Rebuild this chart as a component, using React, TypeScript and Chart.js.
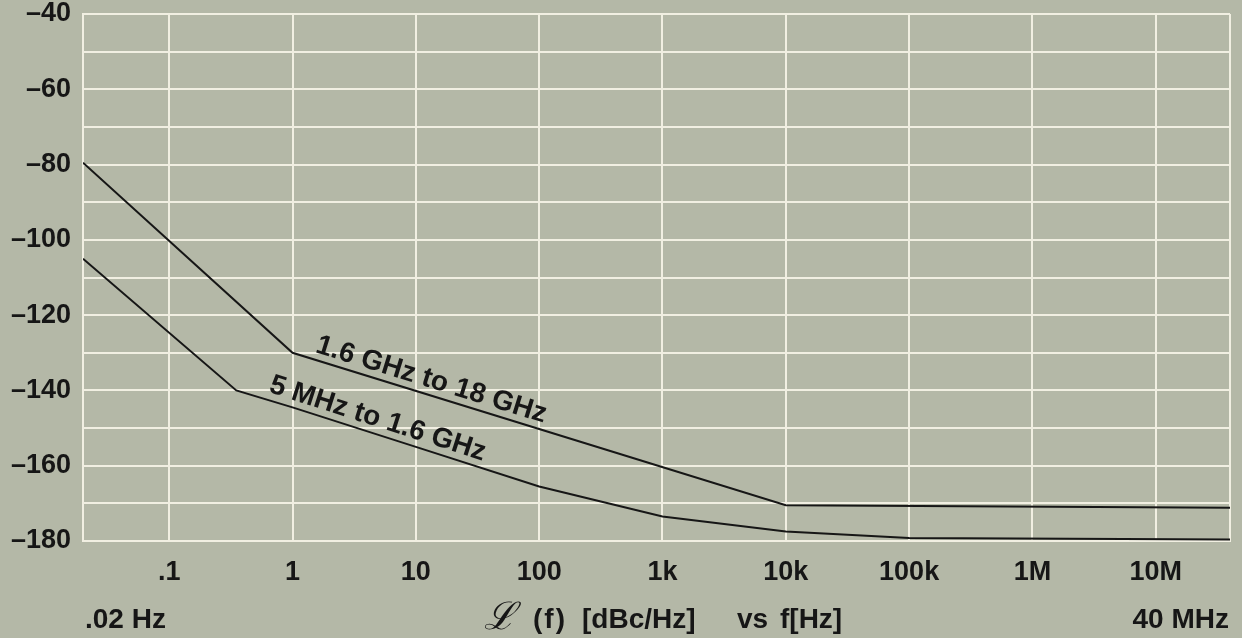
import React, { useEffect, useRef } from 'react';
import { Chart, registerables } from 'chart.js';

Chart.register(...registerables);

// Offset frequency axis (Hz), logarithmic
const FREQ_MIN = 0.02;
const FREQ_MAX = 4e7;
const freqGrid = [0.02, 0.1, 1, 10, 100, 1e3, 1e4, 1e5, 1e6, 1e7, 4e7];
const freqLabels = ['', '.1', '1', '10', '100', '1k', '10k', '100k', '1M', '10M', ''];
const axisEndLabels = ['.02 Hz', '40 MHz'];

// SSB phase noise level, dBc/Hz
const LEVEL_MIN = -180;
const LEVEL_MAX = -40;
const LEVEL_GRID_STEP = 10;
const LEVEL_LABEL_STEP = 20;

// Phase-noise curves per carrier band
const highBandName = '1.6 GHz to 18 GHz';
const highBandFreq = [0.02, 1, 1e4, 4e7];
const highBandLevel = [-79.5, -130, -170.5, -171.2];

const lowBandName = '5 MHz to 1.6 GHz';
const lowBandFreq = [0.02, 0.35, 1, 10, 100, 1e3, 1e4, 1e5, 4e7];
const lowBandLevel = [-105, -140, -144.5, -155, -165.5, -173.5, -177.5, -179.2, -179.6];

const titleSymbol = '\u2112';
const titleParts = ['(f)', '[dBc/Hz]', 'vs', 'f[Hz]'];

const INK = '#161616';
const GRID = '#f1efe2';
const PAPER = '#b4b8a7';
const FONT = '"Liberation Sans", Arial, sans-serif';

// Where along each curve its name is written (Hz)
const curveLabelAt = [12.3, 4.5];

const annotate = {
  id: 'annotate',
  afterDatasetsDraw(chart: any) {
    const ctx: any = chart.ctx;
    const xs = chart.scales.x;
    const area = chart.chartArea;
    ctx.save();
    ctx.fillStyle = INK;

    // curve names, written along each line
    chart.data.datasets.forEach((ds: any, i: number) => {
      const pts = chart.getDatasetMeta(i).data;
      const px = xs.getPixelForValue(curveLabelAt[i]);
      let k = 0;
      while (k < pts.length - 2 && pts[k + 1].x < px) k++;
      const a = pts[k];
      const b = pts[k + 1];
      const t = (px - a.x) / (b.x - a.x);
      const py = a.y + t * (b.y - a.y);
      const ang = Math.atan2(b.y - a.y, b.x - a.x);
      ctx.save();
      ctx.translate(px, py);
      ctx.rotate(ang);
      ctx.font = `bold 28px ${FONT}`;
      ctx.textAlign = 'center';
      ctx.textBaseline = 'middle';
      ctx.fillText(ds.label, 0, -15);
      ctx.restore();
    });

    // bottom row: axis extremes and axis title
    const rowY = area.bottom + 79;
    ctx.textBaseline = 'middle';
    ctx.font = `bold 28px ${FONT}`;
    ctx.textAlign = 'left';
    ctx.fillText(axisEndLabels[0], xs.getPixelForValue(FREQ_MIN) + 2, rowY);
    ctx.textAlign = 'right';
    ctx.fillText(axisEndLabels[1], xs.getPixelForValue(FREQ_MAX) - 1, rowY);

    ctx.textAlign = 'left';
    ctx.font = `italic 38px "DejaVu Serif", serif`;
    ctx.fillText(titleSymbol, area.left + 401, rowY - 1);
    const starts = [450, 499, 654, 697];
    titleParts.forEach((p, i) => {
      ctx.font = `bold 28px ${FONT}`;
      ctx.letterSpacing = i === 0 ? '2px' : '0px';
      ctx.fillText(p, area.left + starts[i], rowY);
    });
    ctx.letterSpacing = '0px';
    ctx.restore();
  },
};

export default function App() {
  const ref = useRef<HTMLCanvasElement>(null);

  useEffect(() => {
    if (!ref.current) return;
    const tickFont = { family: FONT, size: 27, weight: 'bold' as const, lineHeight: 1 };
    const chart = new Chart(ref.current, {
      type: 'line',
      data: {
        datasets: [
          {
            label: highBandName,
            data: highBandFreq.map((f, i) => ({ x: f, y: highBandLevel[i] })),
            borderColor: INK,
            borderWidth: 2,
            pointRadius: 0,
            pointHoverRadius: 0,
            tension: 0,
          },
          {
            label: lowBandName,
            data: lowBandFreq.map((f, i) => ({ x: f, y: lowBandLevel[i] })),
            borderColor: INK,
            borderWidth: 2,
            pointRadius: 0,
            pointHoverRadius: 0,
            tension: 0,
          },
        ],
      },
      options: {
        responsive: false,
        animation: false,
        events: [],
        layout: { autoPadding: false, padding: { top: 14, right: 12, left: 0, bottom: 0 } },
        plugins: { legend: { display: false }, tooltip: { enabled: false } },
        scales: {
          x: {
            type: 'logarithmic',
            min: FREQ_MIN,
            max: FREQ_MAX,
            afterBuildTicks: (s: any) => {
              s.ticks = freqGrid.map((v) => ({ value: v }));
            },
            afterFit: (s: any) => {
              s.height = 97;
              s.paddingLeft = 0;
              s.paddingRight = 0;
            },
            border: { display: true, color: GRID, width: 2 },
            grid: { color: GRID, lineWidth: 2, drawTicks: false },
            ticks: {
              autoSkip: false,
              maxRotation: 0,
              minRotation: 0,
              padding: 18,
              color: INK,
              font: tickFont,
              callback: (v: any) => {
                const i = freqGrid.indexOf(Number(v));
                return i >= 0 ? freqLabels[i] : '';
              },
            },
          },
          y: {
            min: LEVEL_MIN,
            max: LEVEL_MAX,
            afterFit: (s: any) => {
              s.width = 83;
              s.paddingTop = 0;
              s.paddingBottom = 0;
            },
            border: { display: true, color: GRID, width: 2 },
            grid: { color: GRID, lineWidth: 2, drawTicks: false },
            ticks: {
              stepSize: LEVEL_GRID_STEP,
              autoSkip: false,
              padding: 12,
              color: INK,
              font: tickFont,
              callback: (v: any) =>
                Number(v) % LEVEL_LABEL_STEP === 0 ? '\u2013' + Math.abs(Number(v)) : '',
            },
          },
        },
      },
      plugins: [annotate],
    });
    return () => chart.destroy();
  }, []);

  return (
    <div style={{ position: 'absolute', left: 0, top: 0, width: 1242, height: 638, background: PAPER }}>
      <canvas ref={ref} width={1242} height={638} style={{ display: 'block' }} />
    </div>
  );
}
